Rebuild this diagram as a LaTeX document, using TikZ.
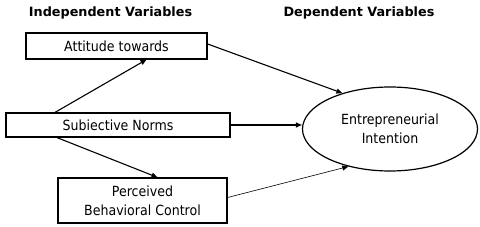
\documentclass[tikz,border=0pt]{standalone}
\usepackage{fontspec}
\setmainfont{DejaVu Sans Condensed}
\newfontfamily\titlefont{DejaVu Sans}
\usetikzlibrary{arrows.meta,shapes.geometric}
\begin{document}
\begin{tikzpicture}[x=1pt,y=-1pt,
  box/.style={draw,line width=1.2pt,inner sep=0pt,font=\fontsize{14}{19}\selectfont,align=center},
  ttl/.style={font=\titlefont\bfseries\fontsize{12.8}{15}\selectfont},
  conn/.style={line width=1.1pt,-{Triangle[length=6pt,width=5pt]}}]
\useasboundingbox (0,0) rectangle (480,227);
\node[ttl] (ti) at (110.5,13) {Independent Variables};
\node[ttl] (td) at (359,13) {Dependent Variables};
\node[box,minimum width=181pt,minimum height=26pt] (att) at (116.5,46) {Attitude towards};
\node[box,minimum width=224pt,minimum height=24pt] (sn) at (118,125) {Subiective Norms};
\node[box,minimum width=169pt,minimum height=45pt] (pbc) at (142.5,200.5) {Perceived\\Behavioral Control};
\node[draw,ellipse,line width=1.2pt,minimum width=175pt,minimum height=84pt,inner sep=0pt,font=\fontsize{14}{19}\selectfont,align=center] (ei) at (390,129) {Entrepreneurial\\Intention};
\draw[conn] ([xshift=-63pt]sn.north) -- ([xshift=30pt]att.south);
\draw[conn] ([yshift=2pt]att.east) -- (ei.143);
\draw[conn] (sn.east) -- (ei.west |- sn.east);
\draw[conn] ([xshift=-61pt]sn.south) -- ([xshift=15pt]pbc.north);
\draw[line width=0.6pt,-{Triangle[length=6pt,width=5pt]}] ([yshift=3pt]pbc.east) -- (ei.222);
\end{tikzpicture}
\end{document}
